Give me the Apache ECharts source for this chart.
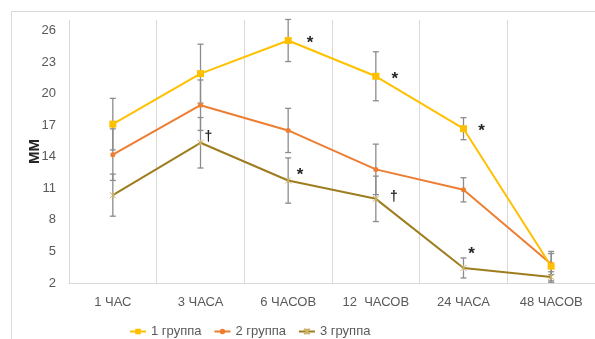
<!DOCTYPE html>
<html>
<head>
<meta charset="utf-8">
<script src="https://cdn.jsdelivr.net/npm/echarts@6/dist/echarts.min.js"></script>
<style>
html,body{margin:0;padding:0;background:#fff;}
#chart{width:595px;height:339px;}
</style>
</head>
<body>
<div id="chart"></div>
<script>
const categories = ['1 ЧАС', '3 ЧАСА', '6 ЧАСОВ', '12  ЧАСОВ', '24 ЧАСА', '48 ЧАСОВ'];
const seriesNames = ['1 группа', '2 группа', '3 группа'];
const group1 = [17.1, 21.9, 25.05, 21.65, 16.67, 3.6];
const group1Err = [2.45, 2.8, 2.0, 2.33, 1.05, 1.4];
const group2 = [14.2, 18.9, 16.5, 12.8, 10.86, 3.8];
const group2Err = [2.45, 2.4, 2.1, 2.4, 1.15, 1.0];
const group3 = [10.35, 15.33, 11.74, 10.0, 3.43, 2.57];
const group3Err = [2.0, 2.4, 2.15, 2.16, 0.95, 0.5];
const group1Notes = ['', '', '*', '*', '*', ''];
const group3Notes = ['', '†', '*', '†', '*', ''];
const yTicks = [2, 5, 8, 11, 14, 17, 20, 23, 26];

// layout of the significance marks (pixel offsets from point)
const noteOffsets1 = [null, null, [22, 3], [19, 3], [18, 3]];
const noteOffsets3 = [null, [8, -6], [12, -5], [18, -2], [8, -14]];

const colors = ['#FFC000', '#ED7D31', '#9E7D1F'];
const FONT = 'Liberation Sans';

function withNotes(values, notes, offsets) {
  return values.map((v, i) => {
    if (!notes[i]) return v;
    const isStar = notes[i] === '*';
    return {
      value: v,
      label: {
        show: true,
        formatter: notes[i],
        position: 'inside',
        offset: offsets[i],
        color: '#262626',
        fontWeight: 'bold',
        fontSize: isStar ? 17 : 14,
        fontFamily: FONT
      }
    };
  });
}

function errorSeries(values, errs) {
  return {
    type: 'custom',
    z: 1,
    silent: true,
    data: values.map((v, i) => [i, v - errs[i], v + errs[i]]),
    renderItem: function (params, api) {
      const lo = api.coord([api.value(0), api.value(1)]);
      const hi = api.coord([api.value(0), api.value(2)]);
      const hw = 3;
      const style = { stroke: '#8c8c8c', lineWidth: 1.3 };
      return {
        type: 'group',
        children: [
          { type: 'line', shape: { x1: lo[0], y1: lo[1], x2: hi[0], y2: hi[1] }, style },
          { type: 'line', shape: { x1: lo[0] - hw, y1: lo[1], x2: lo[0] + hw, y2: lo[1] }, style },
          { type: 'line', shape: { x1: hi[0] - hw, y1: hi[1], x2: hi[0] + hw, y2: hi[1] }, style }
        ]
      };
    }
  };
}

const xSymbol = 'path://M0,0 L10,10 M10,0 L0,10 M5,0 L5,10';

const chart = echarts.init(document.getElementById('chart'), null, { renderer: 'canvas' });
chart.setOption({
  animation: false,
  textStyle: { fontFamily: FONT },
  graphic: [{
    type: 'rect',
    shape: { x: 11.5, y: 11.5, width: 620, height: 360 },
    style: { fill: 'none', stroke: '#d9d9d9', lineWidth: 1 },
    silent: true
  }],
  grid: { left: 69, right: 0, top: 20, bottom: 56 },
  legend: {
    left: 124,
    top: 320,
    itemWidth: 16,
    itemHeight: 7,
    itemGap: 12,
    textStyle: { color: '#595959', fontSize: 13, fontFamily: FONT },
    data: seriesNames
  },
  xAxis: {
    type: 'category',
    data: categories,
    boundaryGap: true,
    axisLine: { show: true, lineStyle: { color: '#d9d9d9', width: 1 } },
    axisTick: { show: false },
    splitLine: { show: true, lineStyle: { color: '#d9d9d9', width: 1 } },
    axisLabel: { color: '#595959', fontSize: 13, margin: 13, fontFamily: FONT }
  },
  yAxis: {
    type: 'value',
    min: yTicks[0],
    max: 27,
    interval: 3,
    name: 'ММ',
    nameLocation: 'middle',
    nameGap: 27,
    nameMoveOverlap: false,
    nameRotate: 90,
    nameTextStyle: { color: '#262626', fontWeight: 'bold', fontSize: 15, fontFamily: FONT },
    axisLine: { show: false },
    axisTick: { show: false },
    splitLine: { show: false },
    axisLabel: {
      color: '#595959', fontSize: 13, margin: 13, fontFamily: FONT, showMaxLabel: false,
      formatter: v => (yTicks.indexOf(v) >= 0 ? String(v) : '')
    }
  },
  series: [
    errorSeries(group1, group1Err),
    errorSeries(group2, group2Err),
    errorSeries(group3, group3Err),
    {
      name: seriesNames[0], type: 'line', z: 5,
      data: withNotes(group1, group1Notes, noteOffsets1),
      symbol: 'rect', symbolSize: 7,
      lineStyle: { color: colors[0], width: 2 },
      itemStyle: { color: colors[0] }
    },
    {
      name: seriesNames[1], type: 'line', z: 4,
      data: group2,
      symbol: 'circle', symbolSize: 5,
      lineStyle: { color: colors[1], width: 2 },
      itemStyle: { color: colors[1] }
    },
    {
      name: seriesNames[2], type: 'line', z: 3,
      data: withNotes(group3, group3Notes, noteOffsets3),
      symbol: xSymbol, symbolSize: 6,
      lineStyle: { color: colors[2], width: 2 },
      itemStyle: { color: 'none', borderColor: '#c9b46a', borderWidth: 1 }
    }
  ]
});
</script>
</body>
</html>
